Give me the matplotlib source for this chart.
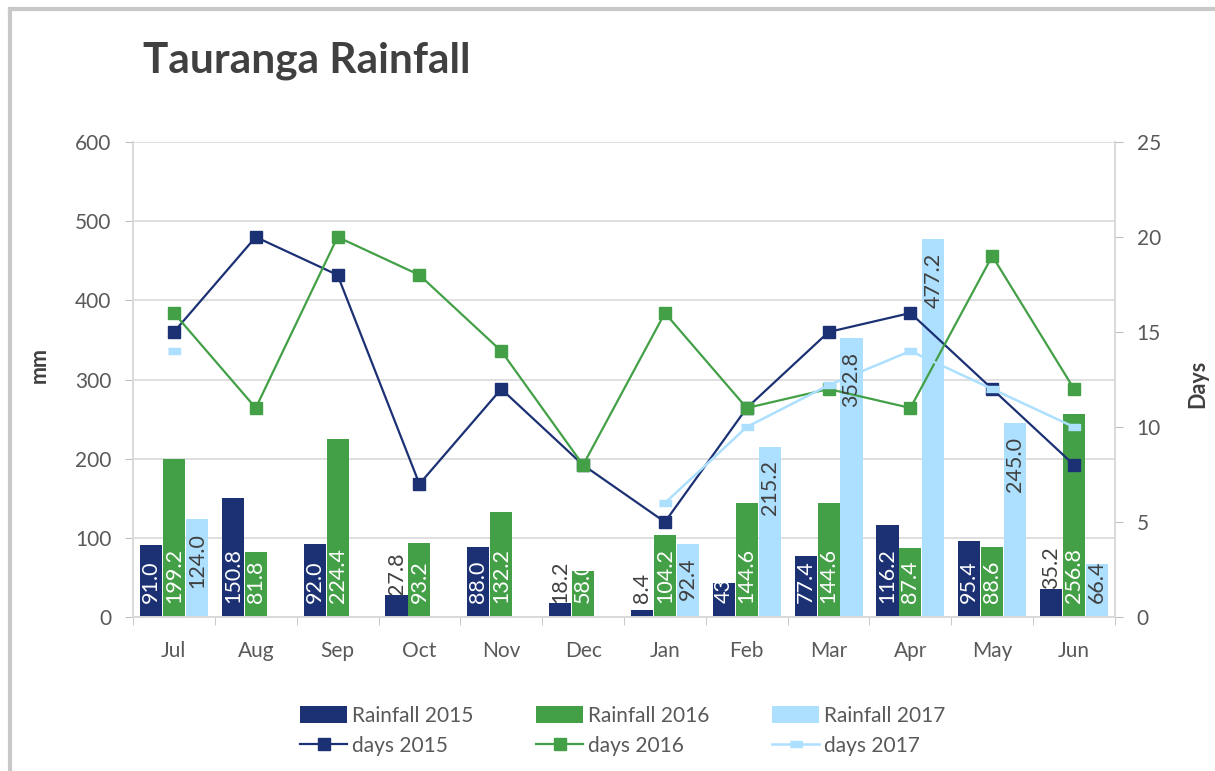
import numpy as np
import matplotlib
matplotlib.use("Agg")
import matplotlib.pyplot as plt
from matplotlib.lines import Line2D

plt.rcParams["font.family"] = ["Lato", "DejaVu Sans"]

months = ["Jul", "Aug", "Sep", "Oct", "Nov", "Dec", "Jan", "Feb", "Mar", "Apr", "May", "Jun"]

rain_2015 = [91.0, 150.8, 92.0, 27.8, 88.0, 18.2, 8.4, 43, 77.4, 116.2, 95.4, 35.2]
rain_2016 = [199.2, 81.8, 224.4, 93.2, 132.2, 58.0, 104.2, 144.6, 144.6, 87.4, 88.6, 256.8]
rain_2017 = [124.0, np.nan, np.nan, np.nan, np.nan, np.nan, 92.4, 215.2, 352.8, 477.2, 245.0, 66.4]

days_2015 = [15, 20, 18, 7, 12, 8, 5, 11, 15, 16, 12, 8]
days_2016 = [16, 11, 20, 18, 14, 8, 16, 11, 12, 11, 19, 12]
days_2017 = [14, np.nan, np.nan, np.nan, np.nan, np.nan, 6, 10, 12.2, 14, 12, 10]

NAVY = "#1c3174"
GREEN = "#43a047"
LIGHT = "#addfff"
TXT = "#595959"
DARK = "#404040"
GRID = "#d9d9d9"
YMAX = 600
LABEL_LEN = 29  # rough length of a rotated "000.0" label, in points


def fmt(v):
    # 43 was typed as a whole number in the source sheet, so it shows without a decimal
    return str(v) if isinstance(v, int) else f"{v:.1f}"


fig = plt.figure(figsize=(12.15, 7.71), dpi=100)
ax = fig.add_axes([133 / 1215, 1 - 617 / 771, 982 / 1215, 475 / 771])
ax2 = ax.twinx()
ax_h_pt = 475 * 72 / 100  # axes height in points

x = np.arange(len(months))
w = 0.27
off = 0.28

b15 = ax.bar(x - off, rain_2015, w, color=NAVY, label="Rainfall 2015", zorder=2)
b16 = ax.bar(x, rain_2016, w, color=GREEN, label="Rainfall 2016", zorder=2)
b17 = ax.bar(x + off, rain_2017, w, color=LIGHT, label="Rainfall 2017", zorder=2)

rect = [(-1, -0.5), (1, -0.5), (1, 0.5), (-1, 0.5)]
l15, = ax2.plot(x, days_2015, color=NAVY, lw=1.6, marker="s", ms=9, label="days 2015")
l16, = ax2.plot(x, days_2016, color=GREEN, lw=1.6, marker="s", ms=9, label="days 2016")
l17, = ax2.plot(x, days_2017, color=LIGHT, lw=1.8, marker=rect, ms=9, label="days 2017")

# labels for 2015 / 2016 sit at the base of the bar; short bars get a dark label just above the bar
for xs, vals in ((x - off, rain_2015), (x, rain_2016)):
    for xi, v in zip(xs, vals):
        if v >= 40:
            col, dy = "white", 10
        else:
            col, dy = DARK, max(10, v / YMAX * ax_h_pt)
        ax2.annotate(fmt(v), (xi, 0), xycoords=ax.transData, xytext=(0, dy),
                     textcoords="offset points", rotation=90, ha="center", va="bottom",
                     fontsize=15.5, color=col, zorder=5)

# 2017 labels sit inside the end of the bar, unless that would push them below the base
for xi, v in zip(x + off, rain_2017):
    if np.isnan(v):
        continue
    if v / YMAX * ax_h_pt - 10 - LABEL_LEN >= 10:
        xy, dy, va = (xi, v), -10, "top"
    else:
        xy, dy, va = (xi, 0), 10, "bottom"
    ax2.annotate(fmt(v), xy, xycoords=ax.transData, xytext=(0, dy),
                 textcoords="offset points", rotation=90, ha="center", va=va,
                 fontsize=15.5, color=DARK, zorder=5)

ax.set_xlim(-0.5, len(months) - 0.5)
ax.set_ylim(0, YMAX)
ax.set_yticks(range(0, YMAX + 1, 100))
ax2.set_ylim(0, 25)
ax2.set_yticks(range(0, 26, 5))

ax.set_xticks(x)
ax.set_xticklabels(months)
ax.set_xticks(np.arange(-0.5, len(months)), minor=True)
ax.tick_params(axis="x", which="major", length=0, pad=17, labelsize=15, labelcolor=TXT)
ax.tick_params(axis="x", which="minor", length=6, color="#bfbfbf")
ax.tick_params(axis="y", length=5.5, pad=10, color="#bfbfbf", labelsize=15, labelcolor=TXT)
ax2.tick_params(axis="y", length=5.5, pad=10, color="#bfbfbf", labelsize=15, labelcolor=TXT)

ax.set_axisbelow(True)
ax.grid(axis="y", color=GRID, lw=1.2)
for a in (ax, ax2):
    a.spines["top"].set_visible(False)
    for s in ("left", "right", "bottom"):
        a.spines[s].set_color(GRID)
        a.spines[s].set_linewidth(1.2)

ax.set_ylabel("mm", fontsize=15.5, fontweight="bold", color=DARK)
ax.yaxis.set_label_coords(-83 / 982, 0.53)
ax2.set_ylabel("Days", fontsize=15.5, fontweight="bold", color=DARK, rotation=90)
ax2.yaxis.set_label_coords(1 + 72 / 982, 0.49)

fig.text(143 / 1215, 1 - 72 / 771, "Tauranga Rainfall", fontsize=30.5, fontweight="bold",
         color=DARK, ha="left", va="baseline")

handles = [b15, l15, b16, l16, b17, l17]
fig.legend(handles, [h.get_label() for h in handles], ncol=3, loc="center",
           bbox_to_anchor=(623 / 1215, 1 - 731 / 771), frameon=False, fontsize=15,
           labelcolor=TXT, handlelength=2.25, handleheight=0.9, handletextpad=0.25,
           columnspacing=3.0, labelspacing=0.5)

# chart-area border (left and top only, the rest is cropped in the source)
fig.add_artist(Line2D([9.5 / 1215, 9.5 / 1215], [0, 1 - 9 / 771], color="#c8c8c8", lw=3))
fig.add_artist(Line2D([9.5 / 1215, 1], [1 - 9 / 771, 1 - 9 / 771], color="#c8c8c8", lw=3))

fig.savefig("out.png", dpi=100)
